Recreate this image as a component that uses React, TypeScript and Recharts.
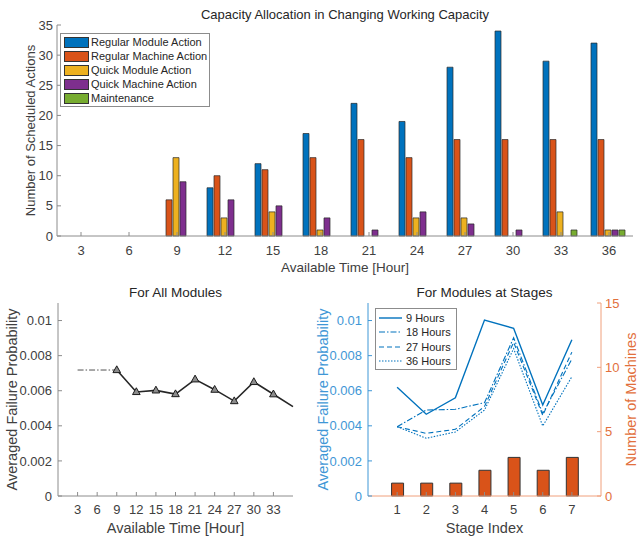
import { Bar, BarChart, ComposedChart, Legend, Line, LineChart, XAxis, YAxis } from "recharts";

const font = '"Liberation Sans", Arial, Helvetica, sans-serif';
const textColor = "#404040";
const boxColor = "#8c8c8c";
const blue = "#0072BD";
const blueAxis = "#3f97d6";
const orange = "#D95319";
const orangeAxis = "#f0a07c";

// top panel: scheduled actions per available time
const hours = [3, 6, 9, 12, 15, 18, 21, 24, 27, 30, 33, 36];
const regularModule = [0, 0, 0, 8, 12, 17, 22, 19, 28, 34, 29, 32];
const regularMachine = [0, 0, 6, 10, 11, 13, 16, 13, 16, 16, 16, 16];
const quickModule = [0, 0, 13, 3, 4, 1, 0, 3, 3, 0, 4, 1];
const quickMachine = [0, 0, 9, 6, 5, 3, 1, 4, 2, 1, 0, 1];
const maintenance = [0, 0, 0, 0, 0, 0, 0, 0, 0, 0, 1, 1];
const countTicks = [0, 5, 10, 15, 20, 25, 30, 35];

const actionSeries = [
  { key: "regularModule", name: "Regular Module Action", color: "#0072BD" },
  { key: "regularMachine", name: "Regular Machine Action", color: "#D95319" },
  { key: "quickModule", name: "Quick Module Action", color: "#EDB120" },
  { key: "quickMachine", name: "Quick Machine Action", color: "#7E2F8E" },
  { key: "maintenance", name: "Maintenance", color: "#77AC30" },
];

// bottom left: all modules
const allTimes = [3, 6, 9, 12, 15, 18, 21, 24, 27, 30, 33, 36];
const timeTicks = [3, 6, 9, 12, 15, 18, 21, 24, 27, 30, 33];
const allModulesProb = [null, null, 0.00718, 0.00593, 0.00602, 0.00581, 0.00665, 0.00606, 0.00541, 0.0065, 0.0058, 0.00509];
const allModulesFlat = [0.00718, 0.00718, 0.00718, null, null, null, null, null, null, null, null, null];
const probTicks = [0, 0.002, 0.004, 0.006, 0.008, 0.01];

// bottom right: modules at stages
const stages = [1, 2, 3, 4, 5, 6, 7];
const prob9h = [0.0062, 0.00466, 0.0056, 0.01003, 0.00956, 0.00519, 0.00891];
const prob18h = [0.00395, 0.0049, 0.00494, 0.00532, 0.00902, 0.0047, 0.0078];
const prob27h = [0.00395, 0.00357, 0.0038, 0.0051, 0.00876, 0.0046, 0.0082];
const prob36h = [0.00395, 0.00329, 0.00365, 0.0049, 0.0084, 0.00399, 0.0068];
const machines = [1, 1, 1, 2, 3, 2, 3];
const machineTicks = [0, 5, 10, 15];
const stageTicks = [1, 2, 3, 4, 5, 6, 7];

const stageSeries = [
  { key: "p9", name: "9 Hours", dash: undefined, width: 1.4 },
  { key: "p18", name: "18 Hours", dash: "6 2 1.5 2", width: 1.1 },
  { key: "p27", name: "27 Hours", dash: "5 3", width: 1.1 },
  { key: "p36", name: "36 Hours", dash: "1.5 1.5", width: 1.1 },
];

const actionData = hours.map((hour, i) => ({
  hour,
  regularModule: regularModule[i],
  regularMachine: regularMachine[i],
  quickModule: quickModule[i],
  quickMachine: quickMachine[i],
  maintenance: maintenance[i],
}));

const allData = allTimes.map((time, i) => ({ time, prob: allModulesProb[i], flat: allModulesFlat[i] }));

const stageData = stages.map((stage, i) => ({
  stage,
  p9: prob9h[i],
  p18: prob18h[i],
  p27: prob27h[i],
  p36: prob36h[i],
  machines: machines[i],
}));

const tick13 = { fill: textColor, fontSize: 13, fontFamily: font };
const blank = () => "";

function ActionLegend() {
  return (
    <div
      style={{
        width: 145,
        border: `1px solid ${boxColor}`,
        background: "#fff",
        padding: "1px 0 1px 3px",
        fontFamily: font,
        fontSize: 11,
        color: "#262626",
      }}
    >
      {actionSeries.map((s) => (
        <div key={s.key} style={{ display: "flex", alignItems: "center", height: 14 }}>
          <span
            style={{ width: 23, height: 9, background: s.color, border: "1px solid #333", marginRight: 2, flex: "none" }}
          />
          {s.name}
        </div>
      ))}
    </div>
  );
}

function StageLegend() {
  return (
    <div
      style={{
        width: 77,
        border: `1px solid ${boxColor}`,
        background: "#fff",
        padding: "2px 0 1px 3px",
        fontFamily: font,
        fontSize: 11,
        color: "#262626",
      }}
    >
      {stageSeries.map((s) => (
        <div key={s.key} style={{ display: "flex", alignItems: "center", height: 14.3 }}>
          <svg width={23} height={6} style={{ marginRight: 4, flex: "none" }}>
            <line x1={0} y1={3} x2={23} y2={3} stroke={blue} strokeWidth={s.width} strokeDasharray={s.dash} />
          </svg>
          {s.name}
        </div>
      ))}
    </div>
  );
}

function renderTriangle(props: any) {
  const { cx, cy, payload, index } = props;
  if (cx == null || cy == null || payload.prob == null || payload.time === 36) {
    return <g key={`tri-${index}`} />;
  }
  return (
    <polygon
      key={`tri-${index}`}
      points={`${cx},${cy - 4.2} ${cx - 3.8},${cy + 2.6} ${cx + 3.8},${cy + 2.6}`}
      fill="#8c8c8c"
      stroke="#1a1a1a"
      strokeWidth={1}
    />
  );
}

function Title({ text, left, top, width, size }: { text: string; left: number; top: number; width: number; size: number }) {
  return (
    <div
      style={{
        position: "absolute",
        left,
        top,
        width,
        textAlign: "center",
        fontFamily: font,
        fontSize: size,
        color: "#262626",
        lineHeight: "16px",
      }}
    >
      {text}
    </div>
  );
}

export default function App() {
  return (
    <div style={{ position: "absolute", left: 0, top: 0, width: 638, height: 538, background: "#fff", overflow: "hidden" }}>
      <Title text="Capacity Allocation in Changing Working Capacity" left={57} top={7} width={576} size={13} />
      <Title text="For All Modules" left={58} top={285} width={235} size={13.5} />
      <Title text="For Modules at Stages" left={368} top={285} width={233} size={13.5} />

      <div style={{ position: "absolute", left: 0, top: 0 }}>
        <BarChart
          width={638}
          height={280}
          data={actionData}
          margin={{ top: 25, right: 5, bottom: 0, left: 0 }}
          barCategoryGap={6}
          barGap={1}
        >
          <XAxis
            dataKey="hour"
            height={44}
            tick={tick13}
            tickSize={-4}
            tickMargin={14}
            axisLine={{ stroke: boxColor }}
            tickLine={{ stroke: boxColor }}
            label={{ value: "Available Time [Hour]", position: "insideBottom", offset: 8, style: { ...tick13, fontSize: 13.5 } }}
          />
          <XAxis
            xAxisId="top"
            dataKey="hour"
            orientation="top"
            height={0}
            tickFormatter={blank}
            tickSize={-4}
            axisLine={{ stroke: boxColor }}
            tickLine={{ stroke: boxColor }}
          />
          <YAxis
            width={57}
            domain={[0, 35]}
            ticks={countTicks}
            tick={tick13}
            tickSize={-4}
            tickMargin={8}
            axisLine={{ stroke: boxColor }}
            tickLine={{ stroke: boxColor }}
            label={{
              value: "Number of Scheduled Actions",
              angle: -90,
              position: "insideLeft",
              offset: 30,
              style: { ...tick13, textAnchor: "middle" },
            }}
          />
          <YAxis
            yAxisId="right"
            orientation="right"
            width={0}
            domain={[0, 35]}
            ticks={countTicks}
            tickFormatter={blank}
            tickSize={-4}
            axisLine={{ stroke: boxColor }}
            tickLine={{ stroke: boxColor }}
          />
          {actionSeries.map((s) => (
            <Bar
              key={s.key}
              dataKey={s.key}
              name={s.name}
              fill={s.color}
              stroke="#2a2a2a"
              strokeWidth={0.7}
              isAnimationActive={false}
            />
          ))}
          <Legend
            layout="vertical"
            align="center"
            verticalAlign="middle"
            wrapperStyle={{ left: 60, top: 33, width: 149 }}
            content={() => <ActionLegend />}
          />
        </BarChart>
      </div>

      <div style={{ position: "absolute", left: 0, top: 280 }}>
        <LineChart width={320} height={258} data={allData} margin={{ top: 23, right: 27, bottom: 0, left: 0 }}>
          <XAxis
            dataKey="time"
            type="number"
            domain={[0, 36]}
            ticks={timeTicks}
            height={42}
            tick={tick13}
            tickSize={-4}
            tickMargin={13}
            axisLine={{ stroke: boxColor }}
            tickLine={{ stroke: boxColor }}
            label={{ value: "Available Time [Hour]", position: "insideBottom", offset: 5, style: { ...tick13, fontSize: 14.5 } }}
          />
          <XAxis
            xAxisId="top"
            dataKey="time"
            type="number"
            orientation="top"
            domain={[0, 36]}
            ticks={timeTicks}
            height={0}
            tickFormatter={blank}
            tickSize={-4}
            axisLine={{ stroke: boxColor }}
            tickLine={{ stroke: boxColor }}
          />
          <YAxis
            width={58}
            domain={[0, 0.011]}
            ticks={probTicks}
            tick={tick13}
            tickSize={-4}
            tickMargin={10}
            axisLine={{ stroke: boxColor }}
            tickLine={{ stroke: boxColor }}
            label={{
              value: "Averaged Failure Probability",
              angle: -90,
              position: "insideLeft",
              offset: 12,
              style: { ...tick13, fontSize: 14.5, textAnchor: "middle" },
            }}
          />
          <YAxis
            yAxisId="right"
            orientation="right"
            width={0}
            domain={[0, 0.011]}
            ticks={probTicks}
            tickFormatter={blank}
            tickSize={-4}
            axisLine={{ stroke: boxColor }}
            tickLine={{ stroke: boxColor }}
          />
          <Line
            dataKey="flat"
            stroke="#262626"
            strokeWidth={0.8}
            strokeDasharray="6 2 1.5 2"
            dot={false}
            isAnimationActive={false}
          />
          <Line
            dataKey="prob"
            stroke="#262626"
            strokeWidth={1.6}
            dot={renderTriangle}
            activeDot={false}
            isAnimationActive={false}
          />
        </LineChart>
      </div>

      <div style={{ position: "absolute", left: 310, top: 280 }}>
        <ComposedChart width={328} height={258} data={stageData} margin={{ top: 23, right: 0, bottom: 0, left: 0 }}>
          <XAxis
            dataKey="stage"
            type="number"
            domain={[0, 8]}
            ticks={stageTicks}
            height={42}
            tick={tick13}
            tickSize={-4}
            tickMargin={13}
            axisLine={{ stroke: orangeAxis }}
            tickLine={{ stroke: boxColor }}
            label={{ value: "Stage Index", position: "insideBottom", offset: 5, style: { ...tick13, fontSize: 14.5 } }}
          />
          <XAxis
            xAxisId="top"
            dataKey="stage"
            type="number"
            orientation="top"
            domain={[0, 8]}
            ticks={stageTicks}
            height={0}
            tickFormatter={blank}
            tickSize={-4}
            axisLine={{ stroke: boxColor }}
            tickLine={{ stroke: boxColor }}
          />
          <YAxis
            yAxisId="left"
            width={58}
            domain={[0, 0.011]}
            ticks={probTicks}
            tick={{ ...tick13, fill: blueAxis }}
            tickSize={-4}
            tickMargin={10}
            axisLine={{ stroke: blueAxis }}
            tickLine={{ stroke: blueAxis }}
            label={{
              value: "Averaged Failure Probability",
              angle: -90,
              position: "insideLeft",
              offset: 13,
              style: { ...tick13, fill: blueAxis, fontSize: 14.5, textAnchor: "middle" },
            }}
          />
          <YAxis
            yAxisId="right"
            orientation="right"
            width={37}
            domain={[0, 15]}
            ticks={machineTicks}
            tick={{ ...tick13, fill: "#e2703c" }}
            tickSize={-4}
            tickMargin={8}
            axisLine={{ stroke: orangeAxis }}
            tickLine={{ stroke: orangeAxis }}
            label={{
              value: "Number of Machines",
              angle: -90,
              position: "insideRight",
              offset: 7,
              style: { ...tick13, fill: "#e2703c", fontSize: 14.5, textAnchor: "middle" },
            }}
          />
          <Bar
            yAxisId="right"
            dataKey="machines"
            fill={orange}
            stroke="#333"
            strokeWidth={1}
            barSize={12}
            isAnimationActive={false}
          />
          {stageSeries.map((s) => (
            <Line
              key={s.key}
              yAxisId="left"
              dataKey={s.key}
              name={s.name}
              stroke={blue}
              strokeWidth={s.width}
              strokeDasharray={s.dash}
              dot={false}
              activeDot={false}
              isAnimationActive={false}
            />
          ))}
          <Legend
            layout="vertical"
            align="center"
            verticalAlign="middle"
            wrapperStyle={{ left: 65, top: 28, width: 81 }}
            content={() => <StageLegend />}
          />
        </ComposedChart>
      </div>
    </div>
  );
}
